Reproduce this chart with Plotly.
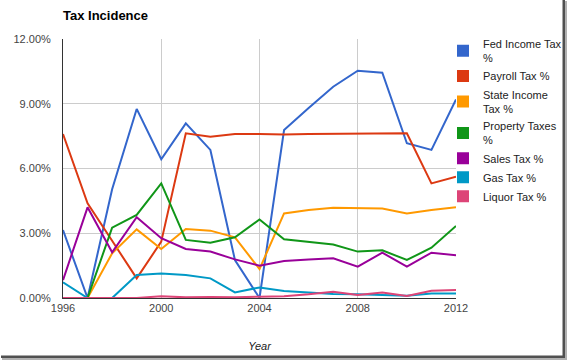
import plotly.graph_objects as go

years = list(range(1996, 2013))

fed_income = [3.15, 0.0, 5.04, 8.76, 6.43, 8.09, 6.86, 1.76, 0.0, 7.78, 8.8, 9.79, 10.53, 10.44, 7.17, 6.86, 9.2]
payroll = [7.6, 4.39, 2.65, 0.91, 2.61, 7.63, 7.47, 7.6, 7.6, 7.58, 7.6, 7.61, 7.62, 7.62, 7.63, 5.31, 5.62]
state_income = [None, 0.0, 2.07, 3.18, 2.27, 3.2, 3.12, 2.81, 1.34, 3.92, 4.08, 4.18, 4.17, 4.15, 3.92, 4.08, 4.2]
property_taxes = [None, 0.0, 3.26, 3.85, 5.31, 2.69, 2.56, 2.81, 3.64, 2.72, 2.6, 2.48, 2.15, 2.21, 1.76, 2.33, 3.34]
sales = [0.83, 4.2, 2.12, 3.74, 2.77, 2.27, 2.15, 1.79, 1.5, 1.71, 1.78, 1.84, 1.45, 2.1, 1.45, 2.1, 1.98]
gas = [0.73, 0.0, 0.0, 1.07, 1.14, 1.07, 0.91, 0.26, 0.49, 0.32, 0.25, 0.18, 0.17, 0.14, 0.11, 0.21, 0.21]
liquor = [0.0, 0.0, 0.0, 0.0, 0.08, 0.03, 0.05, 0.03, 0.06, 0.08, 0.17, 0.29, 0.14, 0.25, 0.09, 0.34, 0.37]

series_names = ["Fed Income Tax<br>%", "Payroll Tax %", "State Income<br>Tax %",
                "Property Taxes<br>%", "Sales Tax %", "Gas Tax %", "Liquor Tax %"]
series_values = [fed_income, payroll, state_income, property_taxes, sales, gas, liquor]
colors = ["#3366cc", "#dc3912", "#ff9900", "#109618", "#990099", "#0099c6", "#dd4477"]

y_ticks = [0, 3, 6, 9, 12]
x_ticks = [1996, 2000, 2004, 2008, 2012]

W, H = 567, 361
L, R, T, B = 63, 111, 39, 63

fig = go.Figure()
for name, vals, c in zip(series_names, series_values, colors):
    fig.add_trace(go.Scatter(x=years, y=vals, mode="lines", name=name,
                             line=dict(color=c, width=2), showlegend=False,
                             connectgaps=False))
for name, c in zip(series_names, colors):
    fig.add_trace(go.Scatter(x=[None], y=[None], mode="markers", name=name,
                             marker=dict(symbol="square", size=11, color=c),
                             showlegend=True))

pw = W - L - R
ph = H - T - B
def px_x(p):
    return (p - L) / pw
def px_y(p):
    return (H - B - p) / ph

shapes = [
    dict(type="rect", xref="paper", yref="paper",
         x0=px_x(565), x1=px_x(567), y0=px_y(360), y1=px_y(1),
         fillcolor="#b0b0b0", line=dict(width=0), layer="above"),
    dict(type="rect", xref="paper", yref="paper",
         x0=px_x(2), x1=px_x(567), y0=px_y(360), y1=px_y(358),
         fillcolor="#b0b0b0", line=dict(width=0), layer="above"),
    dict(type="rect", xref="paper", yref="paper",
         x0=px_x(562.5), x1=px_x(565), y0=px_y(358), y1=px_y(0),
         fillcolor="#505050", line=dict(width=0), layer="above"),
    dict(type="rect", xref="paper", yref="paper",
         x0=px_x(1), x1=px_x(565), y0=px_y(358), y1=px_y(355.5),
         fillcolor="#505050", line=dict(width=0), layer="above"),
]

fig.update_layout(
    width=W, height=H,
    margin=dict(l=L, r=R, t=T, b=B, autoexpand=False),
    paper_bgcolor="white", plot_bgcolor="white",
    font=dict(family="Arial, Liberation Sans, sans-serif", size=11, color="#222"),
    title=dict(text="<b>Tax Incidence</b>", x=63 / W, xanchor="left",
               y=1 - 15 / H, yanchor="middle", pad=dict(l=0, r=0, t=0, b=0),
               font=dict(size=13, color="#000")),
    xaxis=dict(range=[1996, 2012], tickvals=x_ticks, ticktext=[str(v) for v in x_ticks],
               showgrid=True, gridcolor="#cccccc", gridwidth=1,
               zeroline=False, showline=True, linecolor="#333333", linewidth=1,
               tickfont=dict(color="#444", size=11), ticks="", automargin=False,
               title=dict(text="<i>Year</i>", font=dict(size=11, color="#222"), standoff=29)),
    yaxis=dict(range=[0, 12], tickvals=y_ticks, ticktext=[f"{v:.2f}%" for v in y_ticks],
               showgrid=True, gridcolor="#cccccc", gridwidth=1,
               zeroline=False, showline=True, linecolor="#333333", linewidth=1,
               tickfont=dict(color="#444", size=11), ticks="", ticklabelstandoff=9,
               automargin=False),
    legend=dict(x=px_x(443), xanchor="left", y=px_y(30), yanchor="top",
                font=dict(size=11, color="#222"), tracegroupgap=0,
                itemsizing="constant", bgcolor="rgba(0,0,0,0)"),
    shapes=shapes,
)

fig.write_html("out.html", config={"displayModeBar": False},
               post_script="document.body.style.margin='0px';document.body.style.padding='0px';")
